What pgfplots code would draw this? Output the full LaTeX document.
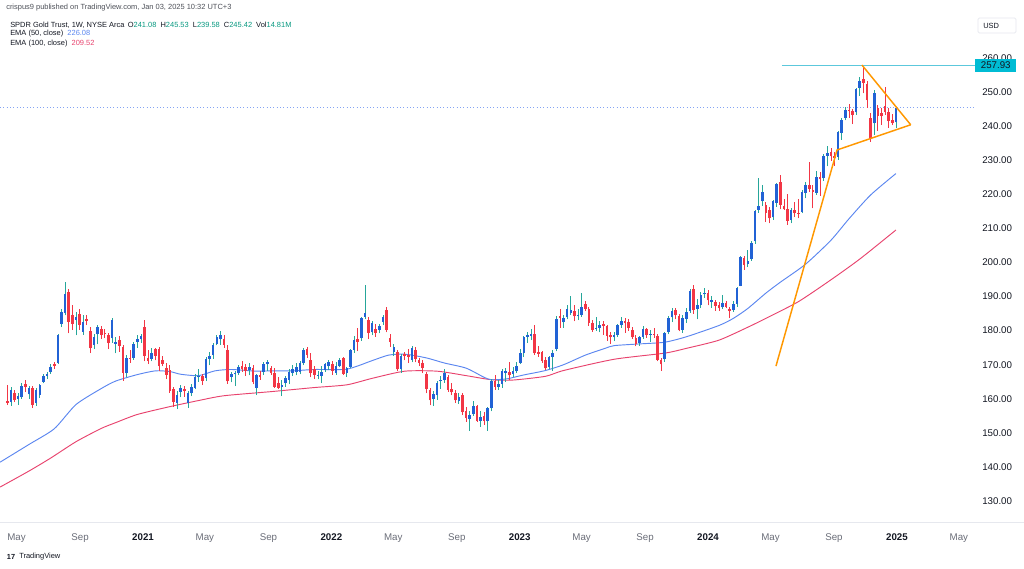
\documentclass[border=0pt]{standalone}
\usepackage{fontspec}
\setmainfont{Liberation Sans}
\usepackage{pgfplots}
\usepackage{pgfplotstable}
\pgfplotsset{compat=1.18}

\definecolor{upbody}{HTML}{2162D5}
\definecolor{upwick}{HTML}{26A69A}
\definecolor{dnbody}{HTML}{F23645}
\definecolor{emafifty}{HTML}{5B86F0}
\definecolor{emahund}{HTML}{E8436E}
\definecolor{trend}{HTML}{FF9800}
\definecolor{lvl}{HTML}{5CC8DC}
\definecolor{lvlbox}{HTML}{00BCD4}
\definecolor{txt}{HTML}{131722}
\definecolor{mgray}{HTML}{6A6D78}
\definecolor{vals}{HTML}{089981}
\definecolor{sep}{HTML}{E6E8EE}

\newcommand{\hdr}{\fontsize{5.6}{6.5}\selectfont}
\newcommand{\tck}{\fontsize{7.3}{8}\selectfont}

% weekly candles, week 0 = 2020-04-13
\pgfplotstableread{
i o h l c
0 159.3 164.0 158.2 158.8
1 159.2 163.5 158.0 162.6
2 161.8 162.5 159.0 159.6
3 159.9 161.6 158.2 160.8
4 160.4 164.5 160.0 163.8
5 164.3 165.6 162.0 163.4
6 161.3 163.7 159.9 163.1
7 163.1 163.8 157.4 158.2
8 158.9 163.2 158.0 162.6
9 161.0 164.4 160.2 164.0
10 165.0 167.2 164.5 166.7
11 166.7 168.0 165.8 167.3
12 167.8 170.3 167.3 169.3
13 170.1 170.8 168.8 169.7
14 170.6 179.0 170.2 178.7
15 182.0 186.3 181.0 185.6
16 185.1 194.4 184.5 190.7
17 191.4 192.3 179.2 182.6
18 184.6 187.6 180.3 182.0
19 183.1 185.4 178.6 184.1
20 184.9 186.3 180.2 181.7
21 179.7 184.5 178.8 182.6
22 183.3 184.6 181.6 182.9
23 179.9 181.2 173.4 174.8
24 175.8 179.0 174.6 178.2
25 178.9 181.6 176.0 181.0
26 180.4 181.5 177.6 178.7
27 179.4 180.6 177.8 179.0
28 178.7 179.4 174.6 176.3
29 177.8 183.6 176.4 183.0
30 176.2 178.2 173.3 176.7
31 177.2 178.4 173.8 175.6
32 175.2 175.8 165.3 167.6
33 167.5 172.8 166.4 172.0
34 172.1 174.2 170.6 171.8
35 172.0 176.8 171.4 176.2
36 176.8 178.7 175.0 177.5
37 177.4 179.0 176.4 178.4
38 181.2 183.0 171.0 172.5
39 172.0 174.4 170.2 171.1
40 171.8 175.0 171.0 173.3
41 174.5 174.9 171.3 172.6
42 174.6 175.2 168.3 169.6
43 171.5 172.5 169.5 170.3
44 169.0 170.5 165.8 167.0
45 168.4 169.8 161.7 162.2
46 163.0 163.6 157.6 159.1
47 158.8 162.2 157.0 161.0
48 162.0 164.0 160.4 163.2
49 162.9 163.8 160.6 162.4
50 158.9 162.2 157.3 161.6
51 161.6 164.3 160.8 163.5
52 163.1 167.2 162.8 166.5
53 166.3 168.6 165.0 166.7
54 166.6 167.4 164.0 165.3
55 166.0 172.3 165.2 171.8
56 171.8 173.8 169.8 172.7
57 172.8 176.3 171.7 175.9
58 176.0 178.8 175.7 178.1
59 177.4 179.8 175.8 178.6
60 177.4 178.6 175.0 175.8
61 174.2 175.8 164.4 165.1
62 166.5 168.0 164.8 167.3
63 167.2 168.2 163.7 167.5
64 167.7 170.0 167.0 169.2
65 169.6 171.2 168.0 168.6
66 169.2 170.3 166.7 168.3
67 168.4 170.6 166.9 169.4
68 169.0 169.8 164.2 164.9
69 163.1 167.4 161.1 166.9
70 167.0 168.2 165.6 166.5
71 167.9 170.9 167.0 170.1
72 170.1 171.5 168.2 170.9
73 169.0 169.7 167.0 167.5
74 167.5 168.9 163.2 163.6
75 164.5 166.5 163.0 163.2
76 163.4 165.5 160.8 164.1
77 164.5 166.6 163.5 166.0
78 165.5 168.6 164.3 168.0
79 167.6 170.0 166.8 168.7
80 168.0 170.6 166.9 169.2
81 168.0 171.0 167.2 170.4
82 170.4 174.8 169.9 174.3
83 174.5 175.3 172.0 172.9
84 171.5 173.3 166.3 167.5
85 168.8 169.7 165.9 167.0
86 166.7 168.3 165.7 167.0
87 166.8 169.5 164.6 168.0
88 168.4 170.6 168.0 170.2
89 169.6 171.5 168.4 170.9
90 170.2 171.1 167.0 168.3
91 167.6 170.7 167.0 169.7
92 169.6 172.0 169.2 171.3
93 171.9 172.4 167.0 167.4
94 167.7 169.4 166.4 169.0
95 169.3 174.5 168.9 174.2
96 174.4 178.3 173.5 177.3
97 177.6 180.7 174.0 176.8
98 177.7 184.0 177.0 183.6
99 184.0 193.4 183.4 185.1
100 183.1 184.0 177.5 179.3
101 179.5 182.7 178.6 182.1
102 180.5 181.8 178.2 179.4
103 180.2 181.8 179.2 181.4
104 182.6 184.5 181.6 184.1
105 186.0 186.8 179.5 180.3
106 177.7 178.9 175.2 176.6
107 173.6 176.2 172.6 175.3
108 173.8 174.3 168.2 168.6
109 168.6 173.0 167.6 172.6
110 173.0 173.6 171.3 172.5
111 172.9 174.6 170.5 172.3
112 171.4 175.4 170.7 174.8
113 174.3 175.3 170.7 171.8
114 171.5 172.0 169.6 170.6
115 170.6 171.3 167.5 168.9
116 167.2 167.9 161.6 162.8
117 162.6 163.3 158.1 159.5
118 159.8 162.3 157.9 161.3
119 161.0 165.3 159.7 164.7
120 165.1 166.7 162.9 165.6
121 165.5 168.6 164.7 167.7
122 166.5 167.0 162.0 162.6
123 162.8 164.7 161.0 161.9
124 161.6 162.6 158.8 159.5
125 159.3 161.8 158.6 160.5
126 161.0 161.6 155.2 156.1
127 156.4 157.7 153.3 154.4
128 154.0 156.5 150.6 155.2
129 155.5 159.4 155.0 158.0
130 157.8 158.3 153.2 153.6
131 153.6 156.5 151.8 154.7
132 155.0 156.2 152.4 153.5
133 153.4 157.6 150.6 157.2
134 157.2 165.9 156.3 165.3
135 165.3 166.9 162.7 163.6
136 163.6 165.4 162.6 164.3
137 164.3 168.8 163.3 168.2
138 167.6 168.9 164.9 168.3
139 167.9 170.8 165.5 166.9
140 167.4 169.3 166.4 168.3
141 168.1 170.7 167.5 169.6
142 170.6 174.5 170.2 173.3
143 173.4 178.4 172.2 178.1
144 178.2 179.6 176.3 178.6
145 178.5 180.4 177.2 179.0
146 179.1 181.6 172.9 173.3
147 173.6 175.4 172.3 173.2
148 173.6 174.0 170.6 171.2
149 171.5 172.3 168.4 168.9
150 169.2 172.7 168.6 172.2
151 172.4 174.3 168.3 173.5
152 174.6 184.2 173.9 183.5
153 184.3 186.4 180.9 183.7
154 182.4 184.6 180.8 183.6
155 183.9 187.4 183.3 186.3
156 185.3 190.2 184.7 186.0
157 185.8 187.5 182.7 184.2
158 184.2 186.3 183.1 184.5
159 184.7 191.1 184.0 186.9
160 187.8 188.6 185.7 186.4
161 186.3 186.9 181.5 182.1
162 182.3 183.2 179.6 180.3
163 180.5 183.9 179.9 180.9
164 180.9 182.8 179.5 181.7
165 181.9 182.9 178.8 181.4
166 181.3 181.7 177.1 178.5
167 178.6 179.5 176.2 178.1
168 178.0 179.6 176.9 178.7
169 178.6 181.9 178.2 181.6
170 181.6 184.1 180.9 182.9
171 182.9 183.7 179.4 182.2
172 182.4 183.3 179.9 180.8
173 180.3 181.0 177.6 178.1
174 177.9 178.6 175.4 176.1
175 176.3 178.5 175.6 178.0
176 178.1 181.3 177.6 180.4
177 180.4 180.9 177.9 178.6
178 178.8 180.3 176.8 178.9
179 179.0 180.9 177.9 178.7
180 178.4 178.9 171.0 171.5
181 171.3 172.1 168.3 170.1
182 171.6 179.6 170.8 179.3
183 179.5 184.2 178.9 183.8
184 183.9 186.7 182.5 185.8
185 186.1 186.6 183.3 184.5
186 184.4 184.8 179.8 180.1
187 180.2 184.5 179.4 183.7
188 183.5 186.6 182.2 185.5
189 185.8 192.2 185.3 191.6
190 192.2 193.4 185.0 186.0
191 186.4 189.4 183.3 187.6
192 187.6 191.2 186.6 190.4
193 190.6 192.5 189.6 190.9
194 191.1 191.9 187.4 188.9
195 188.5 190.2 186.7 189.1
196 188.5 189.0 185.8 187.3
197 187.4 188.3 185.9 186.5
198 186.8 190.4 186.3 188.2
199 188.1 188.8 186.6 186.9
200 186.2 186.9 183.6 185.9
201 186.0 188.6 185.6 187.9
202 187.8 192.9 187.0 192.5
203 193.2 201.8 193.0 201.5
204 201.2 201.9 197.9 199.4
205 199.6 203.7 198.6 200.3
206 200.9 206.2 200.5 205.7
207 206.2 215.4 205.5 215.0
208 215.5 224.9 214.6 216.6
209 217.9 222.6 216.5 220.7
210 216.9 217.8 211.9 214.6
211 215.4 216.3 211.5 212.9
212 213.2 218.4 212.5 217.9
213 217.5 223.4 216.4 223.1
214 223.6 225.7 215.6 217.0
215 216.7 218.5 215.4 215.6
216 215.6 220.0 211.1 212.3
217 212.6 216.0 211.5 215.5
218 215.4 217.8 213.3 214.5
219 214.6 218.5 212.9 214.3
220 214.8 221.3 214.4 220.6
221 220.5 223.5 218.8 222.6
222 222.8 229.5 220.7 221.6
223 221.4 222.6 215.9 220.6
224 220.4 226.8 219.9 225.0
225 225.2 226.6 219.6 224.4
226 224.7 231.9 224.0 231.2
227 231.3 234.1 228.2 232.1
228 232.5 233.7 229.8 231.1
229 231.2 232.3 228.4 230.6
230 231.0 238.6 230.2 238.2
231 238.1 242.4 236.0 241.9
232 242.4 245.6 241.7 244.6
233 244.8 246.6 242.4 244.3
234 244.3 245.0 240.6 243.4
235 244.0 251.3 243.4 250.9
236 251.3 254.3 248.8 253.3
237 253.7 257.93 249.6 252.8
238 252.3 253.2 245.4 247.6
239 242.4 243.8 235.4 236.4
240 240.8 250.6 237.5 249.6
241 245.4 246.3 238.7 242.9
242 243.9 245.4 240.4 242.9
243 246.0 251.6 243.4 244.1
244 244.2 245.3 239.5 241.5
245 241.8 243.5 240.3 241.0
246 241.08 245.53 239.58 245.42
}\gld

\pgfplotsset{
  candle/.style n args={2}{draw=none, mark=none, forget plot,
    error bars/.cd, y dir=plus, y explicit, error mark=none,
    error bar style={draw=#1, line width=#2}},
  rising/.style={restrict expr to domain={\thisrow{c}-\thisrow{o}}{0:1000}},
  falling/.style={restrict expr to domain={\thisrow{c}-\thisrow{o}}{-1000:-0.0001}},
}

\begin{document}
\begin{tikzpicture}
\fill[white] (0,0) rectangle (768pt,426pt);
\useasboundingbox (0,0) rectangle (768pt,426pt);
\draw[sep, line width=0.5pt] (0,34.5pt) -- (768pt,34.5pt);

\begin{axis}[
  at={(0pt,34.5pt)}, anchor=south west,
  scale only axis, width=731.25pt, height=381pt,
  xmin=-2.02, xmax=267.9, ymin=123.85, ymax=272.9,
  axis line style={draw=none},
  major tick length=0pt,
  clip=false,
  xtick={2.57,20.14,37.57,54.71,72.29,89.71,106.86,124.43,141.86,159.0,176.57,194.0,211.29,228.86,246.29,263.43},
  xticklabels={\textcolor{mgray}{May},\textcolor{mgray}{Sep},\textbf{2021},\textcolor{mgray}{May},\textcolor{mgray}{Sep},\textbf{2022},\textcolor{mgray}{May},\textcolor{mgray}{Sep},\textbf{2023},\textcolor{mgray}{May},\textcolor{mgray}{Sep},\textbf{2024},\textcolor{mgray}{May},\textcolor{mgray}{Sep},\textbf{2025},\textcolor{mgray}{May}},
  xticklabel style={anchor=base, yshift=-13.9pt, font=\tck, text=txt},
  ytick={130,140,150,160,170,180,190,200,210,220,230,240,250,260},
  yticklabels={130.00,140.00,150.00,160.00,170.00,180.00,190.00,200.00,210.00,220.00,230.00,240.00,250.00,260.00},
  yticklabel pos=right,
  yticklabel style={anchor=west, inner sep=0pt, xshift=5.25pt, font=\tck, text=txt},
]

% current price line
\addplot[emafifty!75, dotted, line width=0.5pt] coordinates {(-2.02,245.42) (267.9,245.42)};

% EMA 100
\addplot[emahund, line width=0.7pt, smooth, tension=0.4] coordinates {
(-2,134.1) (6,138.8) (12,142.6) (19,147.4) (26,151.3) (30,153.0) (36,155.4) (45,157.7)
(53,159.5) (60,160.9) (73,162.1) (85,163.3) (94,164.1) (101,166.0) (110,168.1) (119,168.1)
(127,166.8) (134,165.6) (140,165.5) (149,166.6) (154,168.3) (168,171.6) (182,173.4)
(188,174.8) (197,177.2) (205,181.0) (210,183.6) (219,188.5) (228,194.9) (236,201.0) (246,209.52)};

% EMA 50
\addplot[emafifty, line width=0.7pt, smooth, tension=0.4] coordinates {
(-2,141.4) (6,146.6) (13,151.2) (19,158.3) (26,163.0) (30,165.2) (36,167.1) (41,168.2)
(45,168.0) (48,167.2) (53,166.8) (57.5,168.2) (62,168.6) (69,168.1) (73,168.2) (79,168.2)
(85,168.6) (94,168.7) (101,171.2) (105.5,172.8) (110,173.1) (116,172.0) (121,170.5)
(127,169.0) (132,166.3) (134,165.6) (138,165.8) (141,166.5) (143,167.0) (149,168.3)
(154,170.0) (160,172.8) (165.5,174.8) (168,175.6) (175,176.1) (182,176.6) (188,178.2)
(197,181.5) (201,183.6) (205,186.5) (210,191.0) (214,194.2) (221,199.5) (228,206.5)
(233,212.8) (239,219.8) (246,226.08)};

% wicks
\addplot[rising, candle={upwick}{0.55pt}]
  table[x=i, y=l, y error expr=\thisrow{h}-\thisrow{l}] {\gld};
\addplot[falling, candle={dnbody}{0.55pt}]
  table[x=i, y=l, y error expr=\thisrow{h}-\thisrow{l}] {\gld};

% bodies
\addplot[rising, candle={upbody}{1.95pt}]
  table[x=i, y=o, y error expr=\thisrow{c}-\thisrow{o}] {\gld};
\addplot[falling, candle={dnbody}{1.95pt}]
  table[x=i, y=c, y error expr=\thisrow{o}-\thisrow{c}] {\gld};

% drawn trend lines and level
\addplot[lvl, line width=0.75pt] coordinates {(214.4,257.93) (267.9,257.93)};
\addplot[trend, line width=1.1pt] coordinates {(212.8,169.6) (229.7,233.0) (250.1,240.4)};
\addplot[trend, line width=1.1pt] coordinates {(236.6,257.93) (250.1,240.4)};

\node[anchor=west, fill=lvlbox, text=txt, font=\tck, inner sep=0pt,
  minimum width=30.75pt, minimum height=9.75pt] at (axis cs:267.9,257.8) {257.93};
\end{axis}

% price scale header
\draw[sep, line width=0.5pt, rounded corners=1pt] (733.5pt,401.25pt) rectangle (762pt,412.5pt);
\node[anchor=west, inner sep=0pt, font=\hdr, text=txt] at (737.25pt,406.9pt) {USD};

% legend text
\node[anchor=west, inner sep=0pt, font=\hdr, text=txt!75] at (4.5pt,420pt)
  {crispus9 published on TradingView.com, Jan 03, 2025 10:32 UTC+3};
\node[anchor=west, inner sep=0pt, font=\hdr, text=txt] at (7.5pt,407.25pt)
  {SPDR Gold Trust, 1W, NYSE Arca\hspace{2.5pt}O\textcolor{vals}{241.08}\hspace{1.5pt} H\textcolor{vals}{245.53}\hspace{1.5pt} L\textcolor{vals}{239.58}\hspace{1.5pt} C\textcolor{vals}{245.42}\hspace{1.5pt} Vol\textcolor{vals}{14.81M}};
\node[anchor=west, inner sep=0pt, font=\hdr, text=txt] at (7.5pt,400.7pt)
  {EMA (50, close)\hspace{1.5pt} \textcolor{emafifty}{226.08}};
\node[anchor=west, inner sep=0pt, font=\hdr, text=txt] at (7.5pt,393.5pt)
  {EMA (100, close)\hspace{1.5pt} \textcolor{emahund}{209.52}};

% footer logo
\node[anchor=west, inner sep=0pt, font=\fontsize{5.5}{6}\selectfont\bfseries, text=txt] at (5pt,8.25pt) {17};
\node[anchor=west, inner sep=0pt, font=\hdr, text=txt] at (14.25pt,8.25pt) {TradingView};
\end{tikzpicture}
\end{document}
